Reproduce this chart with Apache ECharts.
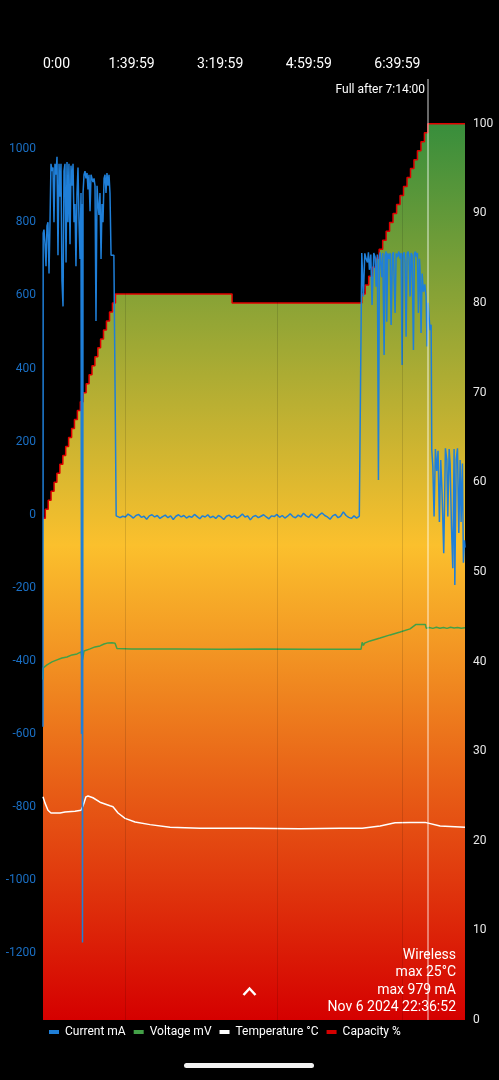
<!DOCTYPE html>
<html><head><meta charset="utf-8">
<script src="https://cdn.jsdelivr.net/npm/echarts@6/dist/echarts.min.js"></script>
<style>html,body{margin:0;padding:0;background:#000;}#c{width:499px;height:1080px;}</style>
</head><body><div id="c"></div>
<script>
// time axis in minutes
const timeTickValues = [0, 99.983, 199.983, 299.983, 399.983];
const timeTickLabels = ['0:00', '1:39:59', '3:19:59', '4:59:59', '6:39:59'];
const currentTicks = [-1200, -1000, -800, -600, -400, -200, 0, 200, 400, 600, 800, 1000];
const capacityTicks = [0, 10, 20, 30, 40, 50, 60, 70, 80, 90, 100];
const fullTime = 434; // 7:14:00
const markerTimes = [92.6, 264.2, 405.3];

const capacityTimes = [0, 2.6, 5.9, 9.1, 12.5, 15.7, 19.0, 22.4, 25.6, 28.9, 32.3, 35.5, 38.8, 42.1, 45.4, 48.7, 52.0, 55.3, 58.6, 61.9, 65.0, 68.3, 71.6, 75.1, 78.4, 81.8,
  213.4,
  359.8, 363.7, 367.6, 371.6, 375.5, 379.4, 383.4, 387.3, 391.2, 395.1, 399.1, 403.0, 406.9, 410.9, 414.8, 418.7, 422.6, 426.6, 430.5, 434.3,
  476.3];
const capacityValues = [56, 57, 58, 59, 60, 61, 62, 63, 64, 65, 66, 67, 68, 69, 70, 71, 72, 73, 74, 75, 76, 77, 78, 79, 80, 81,
  80,
  81, 82, 83, 84, 85, 86, 87, 88, 89, 90, 91, 92, 93, 94, 95, 96, 97, 98, 99, 100,
  100];

const currentPoints = [
  [0,-580],[0.2,770],[1.1,780],[2.3,740],[3.4,680],[4.5,790],[5.6,800],[6.8,660],[7.9,800],[9.0,960],[10.2,940],[11.3,950],[12.4,800],[13.5,960],[14.7,930],[15.8,979],[16.9,710],[18.1,960],[19.2,870],[20.3,960],[21.4,640],[22.6,570],[23.7,940],[24.8,960],[26.0,690],[27.1,965],[28.2,800],[29.3,960],[30.5,740],[31.6,955],[32.7,900],[33.9,960],[35.0,800],[36.1,850],[37.2,680],[38.4,880],[39.5,950],[40.6,810],[41.8,700],[42.9,880],[43.5,-600],[44.0,850],[44.6,-1170],[45.2,880],[46.3,930],[47.4,940],[48.5,920],[49.7,935],[50.8,890],[51.9,930],[53.1,830],[54.2,930],[55.3,920],[56.4,910],[57.6,920],[58.7,900],[59.8,530],[61.0,900],[62.1,850],[63.2,820],[64.3,880],[65.5,700],[66.6,850],[67.7,800],[68.9,920],[70.0,930],[71.1,880],[72.2,935],[73.4,900],[74.5,930],[75.6,880],[76.8,710],[78.0,712],[80.0,710],[82.2,705],[82.6,-3],
  [84,-2],[87,-8],[90,-4],[93,-6],[96,2],[99,-3],[102,-9],[105,-2],[108,1],[111,-7],[114,-4],[117,-12],[120,-3],[123,0],[126,-6],[129,-2],[132,-10],[135,-5],[138,-1],[141,-8],[144,-3],[147,-13],[150,-4],[153,0],[156,-6],[159,-2],[162,-9],[165,-4],[168,-7],[171,1],[174,-5],[177,-11],[180,-3],[183,-6],[186,0],[189,-8],[192,-4],[195,-10],[198,-2],[201,-6],[204,-13],[207,-4],[210,-1],[213,-7],[216,-3],[219,-9],[222,-5],[225,2],[228,-6],[231,-3],[234,-14],[237,-5],[240,-2],[243,-8],[246,-4],[249,0],[252,-6],[255,-11],[258,-3],[261,-5],[264,1],[267,-7],[270,-2],[273,-9],[276,-4],[279,3],[282,-5],[285,-8],[288,-1],[291,-6],[294,4],[297,-3],[300,-7],[303,2],[306,-4],[309,-9],[312,0],[315,5],[318,-2],[321,-6],[324,-12],[327,-3],[330,1],[333,-8],[336,-4],[339,8],[342,-2],[345,-7],[348,-10],[351,-3],[354,-9],[357,-4],[359,-6],
  [359.8,716],[361.6,597],[363.2,715],[364.7,700],[366.2,690],[367.3,718],[368.4,670],[370.0,712],[371.4,574],[373.3,716],[374.8,705],[376.0,624],[377.4,712],[378.6,95],[379.7,705],[380.5,718],[382.4,650],[383.5,716],[385.0,437],[386.1,710],[387.3,720],[388.0,528],[389.1,715],[390.6,700],[391.8,716],[392.9,519],[394.4,712],[395.5,718],[397.4,552],[398.6,715],[400.0,705],[401.6,720],[403.1,700],[404.2,716],[405.3,410],[406.4,712],[407.6,718],[408.7,690],[409.8,487],[411.0,714],[412.1,720],[413.2,700],[414.3,597],[415.5,716],[416.6,710],[418.1,451],[419.2,714],[420.3,720],[421.5,705],[422.6,716],[423.7,552],[424.9,700],[425.6,670],[426.7,497],[427.9,660],[429.4,610],[430.9,630],[432.4,597],[433.5,460],[434.7,580],[435.8,540],[436.9,505],[438.1,520],[438.8,177],[440.0,132],[441.4,-5],[442.9,180],[444.4,120],[445.9,175],[447.4,-20],[448.9,150],[450.4,60],[452.3,-105],[454.2,182],[455.8,150],[456.9,-5],[458.4,180],[459.5,140],[461.0,-30],[462.5,-146],[464.0,180],[464.8,-192],[466.3,150],[467.8,182],[469.3,-50],[470.8,150],[471.9,-20],[473.4,140],[474.5,-131],[475.7,-70],[476.3,-90]
];

const voltagePoints = [
  [0,3800],[0.3,3929],[4.5,3962],[10.2,3996],[15.8,4018],[21.4,4040],[27.1,4051],[32.7,4074],[38.4,4085],[42.9,4107],[44.6,4018],[46.3,4118],[53.1,4141],[58.7,4163],[64.3,4174],[68.9,4196],[73.4,4208],[77.9,4210],[81.3,4205],[83.5,4146],
  [100,4141],[150,4141],[200,4138],[250,4141],[300,4138],[359,4138],
  [360.2,4215],[361.6,4180],[363,4205],[369.2,4230],[380.5,4263],[391.8,4297],[403.1,4330],[414.3,4364],[421,4414],[425.6,4414],[431.5,4414],[432.5,4372],[436,4380],[440,4370],[444,4382],[448,4372],[452,4380],[456,4370],[460,4382],[464,4375],[468,4380],[472,4372],[476.3,4378]
];

const temperaturePoints = [
  [0,24.9],[2.3,24.2],[5.6,23.4],[9.0,23.1],[19.2,23.1],[24.8,23.2],[36.1,23.3],[42.9,23.4],[45.2,23.9],[48.5,24.9],[50.8,25.0],[56.4,24.8],[64.3,24.3],[75.6,23.9],[79.0,23.8],[84.7,23.1],[92.6,22.5],[103.9,22.1],[120.8,21.8],[143.4,21.5],[177.3,21.4],[233.7,21.4],[290.2,21.35],[335.3,21.4],[360.2,21.4],[380.5,21.65],[397.4,22.0],[414.3,22.05],[431.3,22.05],[448.2,21.65],[476.3,21.5]
];

const infoLines = ['Wireless', 'max 25°C', 'max 979 mA', 'Nov 6 2024 22:36:52'];

const capacityPoints = capacityTimes.map((t, i) => [t, capacityValues[i]]);

const chart = echarts.init(document.getElementById('c'));
const option = {
  backgroundColor: '#000',
  animation: false,
  textStyle: { fontFamily: 'Roboto' },
  grid: { left: 43, right: 34, top: 79, bottom: 60 },
  xAxis: {
    type: 'value', position: 'top', min: 0, max: 476.3,
    axisLine: { show: false }, axisTick: { show: false }, splitLine: { show: false },
    axisLabel: {
      customValues: timeTickValues,
      formatter: function (v) {
        let best = 0;
        timeTickValues.forEach((tv, i) => { if (Math.abs(tv - v) < Math.abs(timeTickValues[best] - v)) best = i; });
        return timeTickLabels[best];
      },
      color: '#fff', fontSize: 14, margin: 8, alignMinLabel: 'left'
    }
  },
  yAxis: [
    {
      type: 'value', position: 'left', min: -1382, max: 1192,
      axisLine: { show: false }, axisTick: { show: false }, splitLine: { show: false },
      axisLabel: { customValues: currentTicks, formatter: v => String(v), color: '#1a6fc4', fontSize: 12, margin: 7, padding: [4, 0, 0, 0] }
    },
    {
      type: 'value', position: 'right', min: 0, max: 105,
      axisLine: { show: false }, axisTick: { show: false }, splitLine: { show: false },
      axisLabel: { customValues: capacityTicks, color: '#e8e8e8', fontSize: 12, margin: 8, padding: [4, 0, 0, 0] }
    },
    { type: 'value', show: false, min: 0, max: 10500 },
    { type: 'value', show: false, min: 0, max: 105 }
  ],
  legend: {
    left: 49, top: 1026, padding: 0, itemGap: 8, itemWidth: 10, itemHeight: 4, icon: 'rect',
    textStyle: { color: '#fff', fontSize: 12, padding: [0, 0, 0, 1] },
    data: [
      { name: 'Current mA', itemStyle: { color: '#1f7fd8' } },
      { name: 'Voltage mV', itemStyle: { color: '#43a047' } },
      { name: 'Temperature °C', itemStyle: { color: '#ffffff' } },
      { name: 'Capacity %', itemStyle: { color: '#d50000' } }
    ]
  },
  series: [
    {
      name: 'Capacity %', type: 'line', yAxisIndex: 1, step: 'end', showSymbol: false, z: 1,
      data: capacityPoints,
      itemStyle: { color: '#d50000' },
      lineStyle: { color: '#e00000', width: 1.5 },
      areaStyle: {
        opacity: 1,
        color: new echarts.graphic.LinearGradient(0, 0, 0, 1, [
          { offset: 0, color: '#388e3c' },
          { offset: 0.47, color: '#fbc02d' },
          { offset: 1, color: '#d50000' }
        ])
      },
      markLine: {
        silent: true, symbol: ['none', 'none'], label: { show: false },
        data: markerTimes.map(t => ({ xAxis: t, lineStyle: { color: 'rgba(0,0,0,0.12)', width: 1, type: 'solid' } }))
          .concat([{ xAxis: fullTime, lineStyle: { color: 'rgba(255,255,255,0.55)', width: 1.5, type: 'solid' } }])
      },
      markPoint: {
        silent: true,
        data: [{
          coord: [fullTime, 105], symbol: 'circle', symbolSize: 1, itemStyle: { color: 'rgba(0,0,0,0)' },
          label: { show: true, position: 'left', distance: 2, offset: [0, 11], formatter: 'Full after 7:14:00', color: '#fff', fontSize: 12 }
        }]
      }
    },
    {
      name: 'Voltage mV', type: 'line', yAxisIndex: 2, showSymbol: false, z: 2,
      data: voltagePoints, itemStyle: { color: '#43a047' }, lineStyle: { color: '#43a047', width: 1.5 }
    },
    {
      name: 'Temperature °C', type: 'line', yAxisIndex: 3, showSymbol: false, z: 3,
      data: temperaturePoints, itemStyle: { color: '#ffffff' }, lineStyle: { color: '#ffffff', width: 1.5 }
    },
    {
      name: 'Current mA', type: 'line', yAxisIndex: 0, showSymbol: false, z: 4,
      data: currentPoints, itemStyle: { color: '#1f7fd8' }, lineStyle: { color: '#1f7fd8', width: 1.5 }
    }
  ],
  graphic: [
    {
      type: 'text', right: 43, top: 947, z: 10,
      style: { text: infoLines.join('\n'), fill: '#fff', font: '14px Roboto', textAlign: 'right', lineHeight: 17.3 }
    },
    {
      type: 'polyline', z: 10,
      shape: { points: [[243.5, 995], [249.5, 988.5], [255.5, 995]] },
      style: { stroke: '#fff', lineWidth: 2.5, fill: null }
    },
    {
      type: 'rect', z: 10,
      shape: { x: 184, y: 1063, width: 130, height: 5, r: 2.5 },
      style: { fill: '#f2f2f2' }
    }
  ]
};
chart.setOption(option);
</script>
</body></html>
